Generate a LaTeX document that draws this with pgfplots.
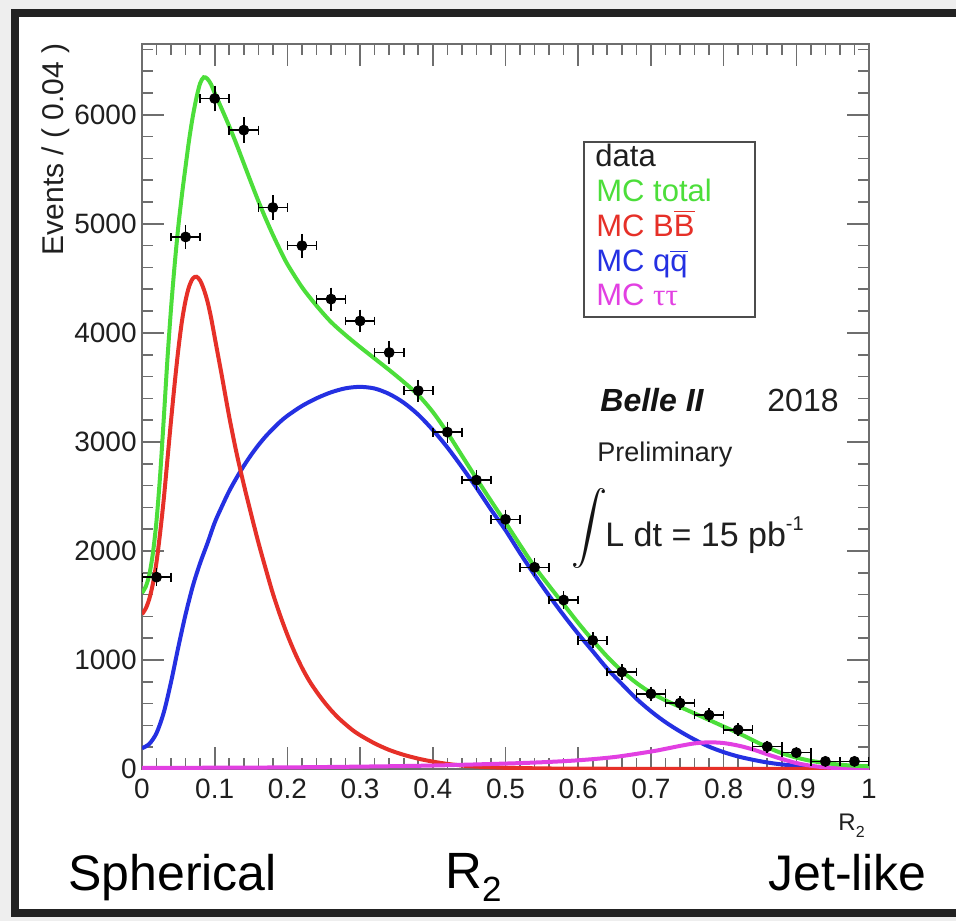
\documentclass[border=0pt]{standalone}
\usepackage{pgfplots}
\usepackage{pgfplotstable}
\pgfplotsset{compat=1.18}
\usepackage{graphicx}
\usepackage{fontspec}
\setmainfont{Liberation Sans}
\newfontfamily\serifgreek{Liberation Serif}
\definecolor{mcgreen}{RGB}{76,222,58}
\definecolor{mcred}{RGB}{230,48,40}
\definecolor{mcblue}{RGB}{36,48,226}
\definecolor{mcmag}{RGB}{226,64,226}
\definecolor{axgray}{RGB}{110,110,110}
\definecolor{framedark}{RGB}{34,34,34}
\definecolor{outergray}{RGB}{238,238,238}
\newcommand{\fs}[1]{\fontsize{#1}{#1}\selectfont}

\pgfplotstableread{
x y ex ey
0.02 1760 0.02 42
0.06 4880 0.02 70
0.10 6150 0.02 78
0.14 5860 0.02 77
0.18 5150 0.02 72
0.22 4800 0.02 69
0.26 4310 0.02 66
0.30 4110 0.02 64
0.34 3820 0.02 62
0.38 3470 0.02 59
0.42 3090 0.02 56
0.46 2650 0.02 51
0.50 2290 0.02 48
0.54 1850 0.02 43
0.58 1550 0.02 39
0.62 1180 0.02 34
0.66 890 0.02 30
0.70 690 0.02 26
0.74 605 0.02 25
0.78 495 0.02 22
0.82 360 0.02 19
0.86 205 0.02 14
0.90 150 0.02 12
0.94 70 0.02 8
0.98 70 0.02 8
}\datatab

\pgfplotstableread{
x y
0.000 1615
0.005 1670
0.010 1780
0.015 1980
0.020 2280
0.025 2700
0.030 3220
0.035 3760
0.040 4230
0.045 4630
0.050 4980
0.055 5270
0.060 5530
0.065 5780
0.070 5990
0.075 6160
0.080 6290
0.085 6345
0.090 6330
0.095 6280
0.100 6200
0.110 6050
0.120 5895
0.130 5730
0.140 5555
0.150 5380
0.160 5210
0.170 5050
0.180 4900
0.190 4760
0.200 4630
0.220 4420
0.240 4250
0.260 4100
0.280 3980
0.300 3870
0.320 3765
0.340 3660
0.360 3550
0.380 3430
0.400 3275
0.420 3085
0.440 2875
0.460 2665
0.480 2460
0.500 2260
0.520 2055
0.540 1855
0.560 1680
0.580 1510
0.600 1340
0.620 1180
0.640 1030
0.660 900
0.680 790
0.700 700
0.720 630
0.740 570
0.760 510
0.780 450
0.800 390
0.820 330
0.840 265
0.860 200
0.880 145
0.900 105
0.920 75
0.940 55
0.960 40
0.980 30
1.000 25
}\greentab

\pgfplotstableread{
x y
0.000 1420
0.005 1470
0.010 1560
0.015 1700
0.020 1900
0.025 2170
0.030 2480
0.035 2840
0.040 3200
0.045 3540
0.050 3850
0.055 4110
0.060 4300
0.065 4430
0.070 4500
0.075 4515
0.080 4480
0.085 4400
0.090 4290
0.095 4140
0.100 3960
0.105 3780
0.110 3600
0.120 3230
0.130 2900
0.140 2610
0.150 2340
0.160 2080
0.170 1840
0.180 1610
0.190 1410
0.200 1230
0.210 1070
0.220 930
0.230 810
0.240 710
0.250 620
0.260 540
0.270 470
0.280 410
0.290 355
0.300 310
0.320 235
0.340 175
0.360 130
0.380 95
0.400 68
0.420 47
0.440 32
0.460 22
0.500 11
0.550 6
0.600 3
0.800 1
1.000 0
}\redtab

\pgfplotstableread{
x y
0.000 190
0.010 230
0.020 330
0.030 520
0.040 800
0.050 1120
0.060 1420
0.070 1680
0.080 1890
0.090 2070
0.100 2260
0.110 2410
0.120 2550
0.130 2670
0.140 2780
0.150 2880
0.160 2970
0.170 3050
0.180 3120
0.190 3185
0.200 3240
0.220 3330
0.240 3400
0.260 3455
0.280 3492
0.300 3505
0.320 3490
0.340 3440
0.360 3360
0.380 3250
0.400 3110
0.420 2950
0.440 2770
0.460 2580
0.480 2380
0.500 2190
0.520 1980
0.540 1780
0.560 1590
0.580 1410
0.600 1240
0.620 1080
0.640 920
0.660 780
0.680 645
0.700 530
0.720 430
0.740 345
0.760 270
0.780 205
0.800 155
0.820 115
0.840 85
0.860 60
0.880 42
0.900 30
0.920 20
0.940 13
0.960 8
0.980 5
1.000 3
}\bluetab

\pgfplotstableread{
x y
0.00 10
0.10 12
0.20 15
0.30 22
0.40 32
0.50 50
0.55 62
0.60 80
0.65 110
0.70 160
0.72 185
0.74 212
0.76 235
0.78 245
0.80 238
0.82 215
0.84 180
0.86 135
0.88 92
0.90 55
0.92 30
0.94 15
0.96 8
0.98 4
1.00 3
}\tautab

\begin{document}
\begin{tikzpicture}
\begin{scope}[x=0.5pt,y=-0.5pt]
\path[use as bounding box] (0,0) rectangle (956,921);
\fill[outergray] (0,0) rectangle (956,921);
\fill[white] (15,13) rectangle (956,913);
\draw[framedark, line width=4pt] (956,13) -- (15,13) -- (15,913) -- (956,913);
\end{scope}

\begin{axis}[
  at={(71pt,-384.5pt)}, anchor=south west,
  scale only axis, width=363.5pt, height=362.5pt,
  xmin=0, xmax=1, ymin=0, ymax=6650,
  xtick={0,0.1,0.2,0.3,0.4,0.5,0.6,0.7,0.8,0.9,1},
  xticklabels={0,0.1,0.2,0.3,0.4,0.5,0.6,0.7,0.8,0.9,1},
  ytick={0,1000,2000,3000,4000,5000,6000},
  yticklabels={0,1000,2000,3000,4000,5000,6000},
  minor xtick={0.02,0.04,...,0.99},
  minor ytick={200,400,...,6600},
  tick align=inside, xtick pos=both, ytick pos=both,
  xticklabel pos=lower, yticklabel pos=left,
  major tick length=11pt, minor tick length=5.5pt,
  axis line style={axgray, line width=0.9pt},
  every tick/.style={axgray, line width=0.8pt},
  tick label style={font=\fs{14}, text=black!88},
  yticklabel style={anchor=east, inner sep=0pt, xshift=-2.5pt},
  xticklabel style={anchor=north, inner sep=0pt, yshift=-5pt},
  scaled ticks=false,
]
\addplot[mcblue, line width=2pt, smooth] table[x=x,y=y] \bluetab;
\addplot[mcred, line width=2pt, smooth] table[x=x,y=y] \redtab;
\addplot[mcmag, line width=2pt, smooth] table[x=x,y=y] \tautab;
\addplot[mcgreen, line width=2pt, smooth] table[x=x,y=y] \greentab;
% horizontal error bars with vertical end caps
\addplot[draw=none, mark=none, black,
  error bars/.cd, x dir=both, x explicit, error mark=|,
  error bar style={line width=0.8pt, black},
  error mark options={black, mark size=2.2pt, line width=0.8pt}]
  table[x=x, y=y, x error=ex] \datatab;
% vertical error bars with markers
\addplot[only marks, mark=*, mark size=2.5pt, black,
  error bars/.cd, y dir=both, y explicit, error mark=-,
  error bar style={line width=0.8pt, black},
  error mark options={black, mark size=2.2pt, line width=0.8pt}]
  table[x=x, y=y, y error=ey] \datatab;
\end{axis}

\begin{scope}[x=0.5pt,y=-0.5pt]
% y axis title
\node[rotate=90, anchor=base east, inner sep=0pt, text=black!88] at (63,43) {\fs{15}Events / ( 0.04 )};
% legend
\draw[black!70, line width=1pt] (584,142) rectangle (755,317);
\node[anchor=base west, inner sep=0pt, text=black!88] at (595,166) {\fs{15.5}data};
\node[anchor=base west, inner sep=0pt, text=mcgreen] at (596,201) {\fs{15.5}MC total};
\node[anchor=base west, inner sep=0pt, text=mcred] at (596,236) {\fs{15.5}MC B$\overline{\mbox{B}}$};
\node[anchor=base west, inner sep=0pt, text=mcblue] at (596,271) {\fs{15.5}MC q$\overline{\mbox{q}}$};
\node[anchor=base west, inner sep=0pt, text=mcmag] at (596,305) {\fs{15.5}MC {\serifgreek ττ}};
% annotations
\node[anchor=base west, inner sep=0pt, text=black!92] at (600,411) {\fs{16}\bfseries\itshape Belle II};
\node[anchor=base west, inner sep=0pt, text=black!88] at (767,411) {\fs{16}2018};
\node[anchor=base west, inner sep=0pt, text=black!88] at (597,461) {\fs{13.5}Preliminary};
\node[anchor=center, inner sep=0pt, text=black!92] at (589,528) {\scalebox{1.8}{$\displaystyle\int$}};
\node[anchor=base west, inner sep=0pt, text=black!88] at (605,546) {\fs{17}L dt = 15 pb\raisebox{0.47em}{\fs{10}-1}};
% axis titles
\node[anchor=base west, inner sep=0pt, text=black!88] at (838,830) {\fs{12}R\raisebox{-0.3em}{\fs{8}2}};
\node[anchor=base west, inner sep=0pt, text=black] at (445,888) {\fs{25.5}R\raisebox{-0.27em}{\fs{17.5}2}};
\node[anchor=base west, inner sep=0pt, text=black] at (68,890) {\fs{25}Spherical};
\node[anchor=base west, inner sep=0pt, text=black] at (768,890) {\fs{25}Jet-like};
\end{scope}
\end{tikzpicture}
\end{document}
